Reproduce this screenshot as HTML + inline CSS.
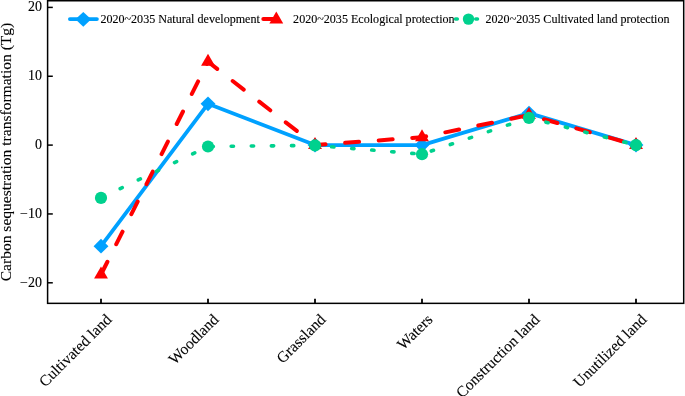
<!DOCTYPE html>
<html><head><meta charset="utf-8"><style>
html,body{margin:0;padding:0;background:#fff;}
svg{display:block;will-change:transform;}
text{font-family:"Liberation Serif",serif;fill:#000;stroke:#000;stroke-width:0.12px;}
</style></head><body>
<svg width="685" height="396" viewBox="0 0 685 396">
<rect x="47.6" y="0.75" width="636.1" height="302.6" fill="none" stroke="#000" stroke-width="1.5"/>
<line x1="47.6" y1="7.40" x2="52.8" y2="7.40" stroke="#000" stroke-width="1.5"/>
<line x1="47.6" y1="76.25" x2="52.8" y2="76.25" stroke="#000" stroke-width="1.5"/>
<line x1="47.6" y1="145.10" x2="52.8" y2="145.10" stroke="#000" stroke-width="1.5"/>
<line x1="47.6" y1="213.95" x2="52.8" y2="213.95" stroke="#000" stroke-width="1.5"/>
<line x1="47.6" y1="282.80" x2="52.8" y2="282.80" stroke="#000" stroke-width="1.5"/>
<line x1="101" y1="303.3" x2="101" y2="298.8" stroke="#000" stroke-width="1.8"/>
<line x1="208" y1="303.3" x2="208" y2="298.8" stroke="#000" stroke-width="1.8"/>
<line x1="315" y1="303.3" x2="315" y2="298.8" stroke="#000" stroke-width="1.8"/>
<line x1="422" y1="303.3" x2="422" y2="298.8" stroke="#000" stroke-width="1.8"/>
<line x1="529" y1="303.3" x2="529" y2="298.8" stroke="#000" stroke-width="1.8"/>
<line x1="636" y1="303.3" x2="636" y2="298.8" stroke="#000" stroke-width="1.8"/>
<text x="42.0" y="11.45" text-anchor="end" font-size="14">20</text>
<text x="42.0" y="80.30" text-anchor="end" font-size="14">10</text>
<text x="42.0" y="149.15" text-anchor="end" font-size="14">0</text>
<text x="42.0" y="218.00" text-anchor="end" font-size="14">−10</text>
<text x="42.0" y="286.85" text-anchor="end" font-size="14">−20</text>
<text transform="translate(11.2,152.0) rotate(-90)" text-anchor="middle" font-size="15.55">Carbon sequestration transformation (Tg)</text>
<text transform="translate(112.5,320.4) rotate(-45)" text-anchor="end" font-size="15.5">Cultivated land</text>
<text transform="translate(219.5,320.4) rotate(-45)" text-anchor="end" font-size="15.5">Woodland</text>
<text transform="translate(326.5,320.4) rotate(-45)" text-anchor="end" font-size="15.5">Grassland</text>
<text transform="translate(433.5,320.4) rotate(-45)" text-anchor="end" font-size="15.5">Waters</text>
<text transform="translate(540.5,320.4) rotate(-45)" text-anchor="end" font-size="15.5">Construction land</text>
<text transform="translate(647.5,320.4) rotate(-45)" text-anchor="end" font-size="15.5">Unutilized land</text>
<polyline points="101.00,246.17 208.00,103.79 315.00,145.10 422.00,145.10 529.00,113.08 636.00,145.10" fill="none" stroke="rgb(0,161,255)" stroke-width="3.8" stroke-linejoin="round" stroke-linecap="round"/>
<path d="M101.00,238.82 L108.45,246.17 L101.00,253.52 L93.55,246.17 Z" fill="rgb(0,161,255)"/>
<path d="M208.00,96.44 L215.45,103.79 L208.00,111.14 L200.55,103.79 Z" fill="rgb(0,161,255)"/>
<path d="M315.00,137.75 L322.45,145.10 L315.00,152.45 L307.55,145.10 Z" fill="rgb(0,161,255)"/>
<path d="M422.00,137.75 L429.45,145.10 L422.00,152.45 L414.55,145.10 Z" fill="rgb(0,161,255)"/>
<path d="M529.00,105.73 L536.45,113.08 L529.00,120.43 L521.55,113.08 Z" fill="rgb(0,161,255)"/>
<path d="M636.00,137.75 L643.45,145.10 L636.00,152.45 L628.55,145.10 Z" fill="rgb(0,161,255)"/>
<polyline points="101.00,274.54 208.00,61.79 315.00,145.10 422.00,137.18 529.00,115.01 636.00,145.10" fill="none" stroke="#FF0000" stroke-width="4" stroke-dasharray="14 19.64" stroke-dashoffset="-0.3" stroke-linecap="round" stroke-linejoin="round"/>
<path d="M101.00,266.54 L107.93,278.54 L94.07,278.54 Z" fill="#FF0000"/>
<path d="M208.00,53.79 L214.93,65.79 L201.07,65.79 Z" fill="#FF0000"/>
<path d="M315.00,137.10 L321.93,149.10 L308.07,149.10 Z" fill="#FF0000"/>
<path d="M422.00,129.18 L428.93,141.18 L415.07,141.18 Z" fill="#FF0000"/>
<path d="M529.00,107.01 L535.93,119.01 L522.07,119.01 Z" fill="#FF0000"/>
<path d="M636.00,137.10 L642.93,149.10 L629.07,149.10 Z" fill="#FF0000"/>
<polyline points="101.00,197.91 208.00,146.48 315.00,145.44 422.00,154.19 529.00,117.84 636.00,145.10" fill="none" stroke="rgb(0,209,142)" stroke-width="3.6" stroke-dasharray="2.3 17.8" stroke-dashoffset="-1.2" stroke-linecap="round" stroke-linejoin="round"/>
<circle cx="101.00" cy="197.91" r="6.1" fill="rgb(0,209,142)"/>
<circle cx="208.00" cy="146.48" r="6.1" fill="rgb(0,209,142)"/>
<circle cx="315.00" cy="145.44" r="6.1" fill="rgb(0,209,142)"/>
<circle cx="422.00" cy="154.19" r="6.1" fill="rgb(0,209,142)"/>
<circle cx="529.00" cy="117.84" r="6.1" fill="rgb(0,209,142)"/>
<circle cx="636.00" cy="145.10" r="6.1" fill="rgb(0,209,142)"/>
<line x1="69.85" y1="19.1" x2="96.95" y2="19.1" stroke="rgb(0,161,255)" stroke-width="3.7" stroke-linecap="round"/>
<path d="M83.30,11.90 L91.20,19.30 L83.30,26.70 L75.40,19.30 Z" fill="rgb(0,161,255)"/>
<text x="100.4" y="23.4" font-size="12.08">2020~2035 Natural development</text>
<line x1="263.3" y1="19.1" x2="291" y2="19.1" stroke="#FF0000" stroke-width="4" stroke-dasharray="14 19.64" stroke-linecap="round"/>
<path d="M276.30,11.60 L283.23,23.60 L269.37,23.60 Z" fill="#FF0000"/>
<text x="293.1" y="23.4" font-size="12.08">2020~2035 Ecological protection</text>
<line x1="455.5" y1="19.1" x2="481" y2="19.1" stroke="rgb(0,209,142)" stroke-width="3.5" stroke-dasharray="1.8 18.4" stroke-linecap="round"/>
<circle cx="468.50" cy="19.10" r="5.7" fill="rgb(0,209,142)"/>
<text x="485.5" y="23.4" font-size="12.08">2020~2035 Cultivated land protection</text>
</svg>
</body></html>
